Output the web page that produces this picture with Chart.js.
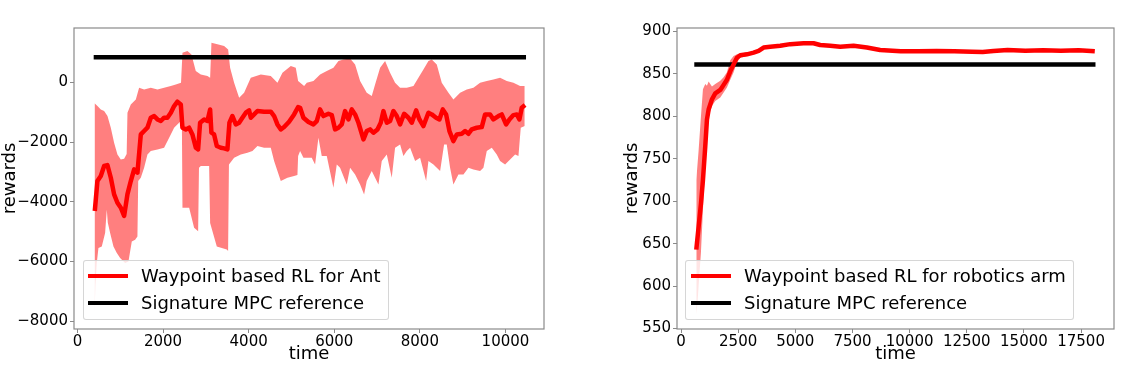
<!DOCTYPE html>
<html><head><meta charset="utf-8">
<script src="https://cdn.jsdelivr.net/npm/chart.js@4"></script>
<style>
html,body{margin:0;padding:0;background:#fff;}
#wrap{position:relative;width:1139px;height:369px;overflow:hidden;font-family:'DejaVu Sans',sans-serif;}
canvas{position:absolute;top:0;}
.legend{position:absolute;background:rgba(255,255,255,0.8);border:1px solid rgba(204,204,204,0.8);border-radius:3px;box-sizing:border-box;}
.legend .ln{position:absolute;height:4px;width:40px;}
.legend .tx{position:absolute;font-size:18px;line-height:18px;white-space:nowrap;color:#000;}
</style></head><body>
<div id="wrap">
<canvas id="c1" width="560" height="369" style="left:0px;width:560px;height:369px"></canvas>
<canvas id="c2" width="559" height="369" style="left:580px;width:559px;height:369px"></canvas>
<div class="legend" style="left:83px;top:260px;width:306px;height:60px">
  <div class="ln" style="left:4px;top:13px;background:#ff0000"></div>
  <div class="tx" style="left:57px;top:5.5px">Waypoint based RL for Ant</div>
  <div class="ln" style="left:4px;top:40px;background:#000"></div>
  <div class="tx" style="left:57px;top:33px">Signature MPC reference</div>
</div>
<div class="legend" style="left:685px;top:260px;width:389px;height:60px">
  <div class="ln" style="left:4.5px;top:13px;background:#ff0000"></div>
  <div class="tx" style="left:58px;top:5.5px">Waypoint based RL for robotics arm</div>
  <div class="ln" style="left:4.5px;top:40px;background:#000"></div>
  <div class="tx" style="left:58px;top:33px">Signature MPC reference</div>
</div>
</div>
<script>
// ---------- Left chart (Ant) ----------
const leftMeanX = [406,467,546,624,701,780,857,934,1014,1091,1168,1247,1325,1402,1481,1558,1635,1714,1792,1869,1948,2025,2102,2182,2259,2336,2415,2453,2532,2609,2686,2766,2820,2866,2960,3037,3100,3130,3193,3256,3350,3427,3504,3551,3621,3700,3777,3854,3934,4011,4051,4128,4205,4361,4518,4595,4672,4752,4829,4945,5062,5156,5202,5280,5397,5513,5591,5669,5747,5864,5942,6020,6098,6175,6253,6331,6409,6487,6565,6682,6759,6837,6915,7009,7086,7149,7227,7304,7382,7460,7538,7632,7733,7811,7912,7990,8083,8200,8278,8379,8457,8535,8613,8691,8784,8862,8979,9057,9135,9212,9329,9446,9524,9641,9718,9835,9913,10014,10092,10186,10264,10326,10380,10458];
const leftMeanY = [-4308,-3303,-3136,-2801,-2768,-3193,-3752,-4030,-4198,-4476,-3752,-3303,-2914,-3025,-1742,-1628,-1518,-1183,-1126,-1240,-1293,-1183,-1183,-1015,-791,-647,-737,-1518,-1574,-1518,-1742,-2188,-2244,-1350,-1240,-1293,-905,-1685,-1742,-2131,-2188,-2211,-2244,-1350,-1126,-1407,-1350,-1183,-1015,-938,-1183,-1072,-958,-982,-982,-1126,-1407,-1574,-1494,-1317,-1072,-824,-849,-1184,-1329,-1407,-1296,-905,-1128,-1050,-1095,-1575,-1519,-1407,-961,-1240,-905,-1072,-1351,-1910,-1631,-1575,-1687,-1575,-1351,-961,-1351,-1296,-961,-1128,-1407,-1050,-1184,-1351,-938,-1240,-1463,-1016,-1072,-1184,-1240,-905,-1072,-1631,-1966,-1743,-1720,-1631,-1720,-1575,-1519,-1497,-1072,-1072,-1240,-1128,-1072,-1407,-1240,-1095,-1072,-1240,-849,-760];

const leftUpperX = [400,468,546,624,702,780,857,935,1013,1091,1150,1169,1247,1364,1441,1558,1714,1870,2025,2181,2298,2420,2454,2570,2664,2765,2882,3038,3100,3131,3271,3427,3521,3567,3661,3778,3894,4050,4284,4517,4673,4790,4985,5101,5156,5296,5358,5514,5669,5825,5981,6098,6214,6370,6487,6604,6759,6876,6954,7071,7188,7304,7421,7538,7694,7850,7966,8083,8200,8278,8395,8512,8668,8784,8940,9096,9251,9407,9563,9718,9874,10030,10186,10341,10450];
const leftUpperY = [-700,-793,-905,-961,-1128,-1519,-2022,-2413,-2580,-2560,-2400,-1016,-737,-570,-179,-235,-179,-235,-179,-123,-67,-11,994,1050,938,380,268,212,156,1329,1274,1218,1106,492,-11,-514,-346,156,268,212,-11,324,547,492,45,-123,-11,45,268,380,492,715,771,804,603,45,-346,-458,-67,492,715,324,-11,-179,-179,-123,156,436,715,771,603,-11,-346,-570,-346,-235,-179,-11,45,101,156,45,-11,-123,-123];

const leftLowerX = [400,420,452,491,569,647,686,710,764,842,920,998,1114,1192,1270,1348,1402,1420,1480,1558,1636,1714,1870,2025,2181,2259,2415,2440,2454,2610,2726,2820,2840,2882,3077,3100,3256,3489,3520,3540,3661,3817,3972,4089,4206,4361,4517,4595,4673,4751,4907,5062,5140,5156,5202,5280,5474,5552,5630,5708,5825,5981,6059,6136,6292,6370,6487,6604,6697,6759,6876,7032,7110,7227,7343,7421,7538,7616,7694,7772,7889,8005,8146,8200,8317,8473,8566,8628,8706,8784,8901,9018,9135,9251,9407,9485,9563,9680,9796,9874,9991,10108,10225,10303,10357,10450];
const leftLowerY = [-7728,-6800,-6052,-5550,-5494,-5047,-4265,-4700,-5047,-5494,-5717,-5885,-6052,-5997,-5326,-5271,-5159,-3300,-3195,-2859,-2413,-2301,-2245,-2189,-1742,-1519,-1296,-1300,-4200,-4200,-4870,-4982,-2859,-2803,-2803,-4712,-5494,-5600,-5650,-2748,-2524,-2413,-2357,-2301,-2133,-2189,-2189,-2636,-2971,-3306,-3195,-3139,-3100,-2469,-2301,-2525,-2525,-2748,-1854,-2469,-2469,-3530,-2748,-2859,-3418,-2859,-3083,-3418,-3753,-3306,-2971,-3418,-2636,-2413,-3195,-2189,-2077,-2469,-2301,-2189,-2636,-2525,-3306,-2636,-2748,-2971,-2077,-2077,-2859,-3418,-3083,-3083,-2859,-2915,-2971,-2859,-2301,-2189,-2413,-2636,-2748,-2580,-2413,-2469,-1519,-1463];

const leftRefX = [380, 10480];
const leftRefY = [840, 840];
const leftXTicks = [0, 2000, 4000, 6000, 8000, 10000];
const leftYTicks = [-8000, -6000, -4000, -2000, 0];

// ---------- Right chart (robotics arm) ----------
const rightMeanX = [669,771,873,960,1062,1135,1208,1354,1499,1718,1864,2009,2155,2301,2447,2592,2884,3175,3394,3613,3904,4341,4778,5361,5798,6089,6526,6964,7547,8129,8712,9612,10390,11172,11950,12729,13197,13664,14285,15063,15841,16619,17397,18100];
const rightMeanY = [643,670,697,725,765,796,808,820,827,831,837,843,853,861,869,872,873,875,877,881,882,883,885,886,886,884,883,882,883,881,878,876.5,876.5,877,876.5,876,875.8,877,878,877.3,877.7,877.3,877.7,876.5];

const rightUpperX = [669,771,873,960,1062,1135,1208,1354,1499,1718,1864,2009,2155,2301,2447,2592,2900];
const rightUpperY = [725,760,800,832,838,836,841,835,838,842,846,852,866,871,873,874,875];
const rightLowerX = [669,720,771,873,960,1062,1135,1208,1354,1499,1718,1864,2009,2155,2301,2447,2592,2900];
const rightLowerY = [567,580,600,640,690,745,785,800,812,818,822,828,834,843,852,864,869,871];

const rightRefX = [581, 18130];
const rightRefY = [861, 861];
const rightXTicks = [0, 2500, 5000, 7500, 10000, 12500, 15000, 17500];
const rightYTicks = [550, 600, 650, 700, 750, 800, 850, 900];

// ---------- helpers ----------
const FONT = "'DejaVu Sans', sans-serif";
const pts = (xs, ys) => xs.map((x, i) => ({x: x, y: ys[i]}));
const fmt = v => (v < 0 ? '\u2212' + Math.abs(v) : String(v));

const boxPlugin = {
  id: 'box',
  afterDatasetsDraw(chart) {
    const {ctx, chartArea: a} = chart;
    ctx.save();
    ctx.strokeStyle = '#8a8a8a';
    ctx.lineWidth = 1.2;
    ctx.strokeRect(a.left, a.top, a.right - a.left, a.bottom - a.top);
    ctx.restore();
  }
};

function makeChart(id, o) {
  const datasets = [
    {data: pts(o.meanX, o.meanY), borderColor: '#ff0000', borderWidth: 4.5, pointRadius: 0, tension: 0, fill: false, borderJoinStyle: 'round'},
    {data: pts(o.refX, o.refY), borderColor: '#000000', borderWidth: 4.5, pointRadius: 0, fill: false},
    {data: pts(o.upX, o.upY), borderWidth: 0, borderColor: 'rgba(0,0,0,0)', pointRadius: 0, tension: 0, fill: '+1', backgroundColor: 'rgba(255,0,0,0.5)'},
    {data: pts(o.loX, o.loY), borderWidth: 0, borderColor: 'rgba(0,0,0,0)', pointRadius: 0, tension: 0, fill: false}
  ];
  const grid = {drawOnChartArea: false, drawTicks: true, tickLength: 4, color: '#8a8a8a', lineWidth: 1};
  return new Chart(document.getElementById(id), {
    type: 'line',
    data: {datasets},
    plugins: [boxPlugin],
    options: {
      responsive: false, animation: false, devicePixelRatio: 1,
      layout: {padding: {top: 28, right: o.padRight, left: 0, bottom: 0}},
      plugins: {legend: {display: false}, tooltip: {enabled: false}},
      scales: {
        x: {
          type: 'linear', min: o.xMin, max: o.xMax,
          afterBuildTicks: s => { s.ticks = o.xTicks.map(v => ({value: v})); },
          afterFit: s => { s.height = 40; },
          grid, border: {display: false},
          ticks: {font: {family: FONT, size: 15}, color: '#000', padding: 0, maxRotation: 0, autoSkip: false, callback: fmt},
          title: {display: true, text: 'time', color: '#000', font: {family: FONT, size: 18}, padding: {top: 0, bottom: 4}}
        },
        y: {
          type: 'linear', min: o.yMin, max: o.yMax,
          afterBuildTicks: s => { s.ticks = o.yTicks.map(v => ({value: v})); },
          afterFit: s => { s.width = o.yWidth; },
          grid, border: {display: false},
          ticks: {font: {family: FONT, size: 15}, color: '#000', padding: 2, autoSkip: false, callback: fmt},
          title: {display: true, text: 'rewards', color: '#000', font: {family: FONT, size: 18}, padding: {top: o.yTitlePad, bottom: 0}}
        }
      }
    }
  });
}

makeChart('c1', {
  meanX: leftMeanX, meanY: leftMeanY, refX: leftRefX, refY: leftRefY,
  upX: leftUpperX, upY: leftUpperY, loX: leftLowerX, loY: leftLowerY,
  xMin: -80, xMax: 10900, yMin: -8260, yMax: 1822,
  xTicks: leftXTicks, yTicks: leftYTicks, yWidth: 74, padRight: 16, yTitlePad: 0
});
makeChart('c2', {
  meanX: rightMeanX, meanY: rightMeanY, refX: rightRefX, refY: rightRefY,
  upX: rightUpperX, upY: rightUpperY, loX: rightLowerX, loY: rightLowerY,
  xMin: -175, xMax: 18940, yMin: 549.5, yMax: 904,
  xTicks: rightXTicks, yTicks: rightYTicks, yWidth: 97, padRight: 25, yTitlePad: 42
});
</script>
</body></html>
